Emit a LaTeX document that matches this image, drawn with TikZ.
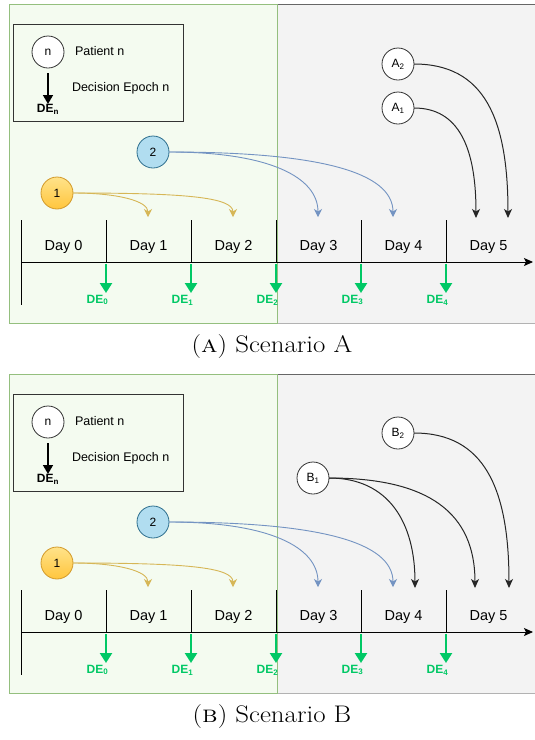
\documentclass[tikz,border=0pt]{standalone}
\usepackage{fontspec}
\newfontfamily\arial{Liberation Sans}
\usetikzlibrary{arrows.meta}

\definecolor{zonegreen}{HTML}{F4FBF0}
\definecolor{zonegreenline}{HTML}{94BF7E}
\definecolor{zonegrey}{HTML}{F3F3F3}
\definecolor{zonegreyline}{HTML}{666666}
\definecolor{degreen}{HTML}{00C865}
\definecolor{bluefill}{HTML}{B1DDF0}
\definecolor{blueedge}{HTML}{2E6F8E}
\definecolor{blueline}{HTML}{7393C2}
\definecolor{yelltop}{HTML}{FFE38A}
\definecolor{yellbot}{HTML}{FFC53D}
\definecolor{yelledge}{HTML}{D29A2A}
\definecolor{yelline}{HTML}{D6B656}

\tikzset{
  every node/.style={inner sep=0pt, outer sep=0pt},
  patient/.style={circle, draw=black!80, line width=0.8pt, fill=white,
    minimum size=32pt, font=\arial\fontsize{12}{14}\selectfont},
  patblue/.style={patient, fill=bluefill, draw=blueedge},
  patyell/.style={patient, top color=yelltop, bottom color=yellbot, draw=yelledge},
  legendbox/.style={draw=black!80, line width=0.9pt, minimum width=170pt, minimum height=97pt},
  legtext/.style={anchor=west, font=\arial\fontsize{12.5}{15}\selectfont},
  daylabel/.style={font=\arial\fontsize{14.5}{17}\selectfont},
  delabel/.style={font=\arial\bfseries\fontsize{12}{14}\selectfont, text=degreen},
  tickline/.style={draw=black, line width=0.9pt},
  timeaxis/.style={draw=black, line width=0.9pt, -{Stealth[length=9pt,width=8pt,inset=2pt]}},
  epocharrow/.style={draw=degreen, line width=2.4pt, -{Triangle[length=10pt,width=12pt]}},
  legarrow/.style={draw=black, line width=1.6pt, -{Triangle[length=9pt,width=10pt]}},
  flowyell/.style={draw=yelline, line width=0.9pt, -{Stealth[length=8pt,width=8pt,inset=2.5pt]}},
  flowblue/.style={draw=blueline, line width=0.9pt, -{Stealth[length=8pt,width=8pt,inset=2.5pt]}},
  flowblack/.style={draw=black!85, line width=1pt, -{Stealth[length=9pt,width=8pt,inset=2.5pt]}},
  captiontext/.style={font=\fontsize{24}{28}\selectfont},
}

% Common frame of one scenario: zones, legend, time axis, epochs, patients 1 and 2
\newcommand{\scenariobase}[1]{%
  \fill[zonegrey] (277,4) rectangle (536,323);
  \draw[zonegreyline, line width=1pt] (277,4) -- (536,4);
  \draw[zonegreyline!50, line width=0.7pt] (277,323) -- (536,323);
  \draw[zonegreenline, fill=zonegreen, line width=0.8pt] (9,4) rectangle (277,323);
  % legend
  \node[legendbox] (#1-legend) at (98,72.5) {};
  \node[patient] (#1-legn) at (48,52) {n};
  \node[legtext] (#1-legpat) at (75,51) {Patient n};
  \node[legtext] (#1-legde) at (72,88) {Decision Epoch n};
  \node[font=\arial\bfseries\fontsize{12}{14}\selectfont] (#1-legden) at (48,109) {DE\textsubscript{n}};
  \coordinate (#1-legtop) at (48,73);
  \coordinate (#1-legtip) at (48,104);
  \draw[legarrow] (#1-legtop) -- (#1-legtip);
  % time axis with day boundaries
  \coordinate (#1-axstart) at (21,262);
  \coordinate (#1-axend) at (533,262);
  \coordinate (#1-lefttop) at (21,220);
  \coordinate (#1-leftbot) at (21,305);
  \draw[tickline] (#1-lefttop) -- (#1-leftbot);
  \draw[timeaxis] (#1-axstart) -- (#1-axend);
  \foreach \k in {1,...,5}{
    \coordinate (#1-tt\k) at (21+85*\k,220);
    \coordinate (#1-tb\k) at (21+85*\k,262);
    \draw[tickline] (#1-tt\k) -- (#1-tb\k);
  }
  \foreach \k in {0,...,5}{
    \node[daylabel] (#1-day\k) at (63.5+85*\k,247) {Day \k};
  }
  \foreach \k [evaluate=\k as \j using int(\k-1)] in {1,...,5}{
    \coordinate (#1-es\k) at (21+85*\k,264);
    \coordinate (#1-ee\k) at (21+85*\k,293);
    \draw[epocharrow] (#1-es\k) -- (#1-ee\k);
    \node[delabel] (#1-de\j) at (12.5+85*\k,300) {DE\textsubscript{\j}};
  }
  % patients 1 and 2
  \node[patblue] (#1-p2) at (153,152) {2};
  \node[patyell] (#1-p1) at (57,193) {1};
  \coordinate (#1-y1) at (148,217);
  \coordinate (#1-y2) at (233,217);
  \coordinate (#1-b3) at (318,217);
  \coordinate (#1-b4) at (393,217);
  \draw[flowyell] (#1-p1.east) .. controls +(45,0) and +(0,-16) .. (#1-y1);
  \draw[flowyell] (#1-p1.east) .. controls +(110,0) and +(0,-20) .. (#1-y2);
  \draw[flowblue] (#1-p2.east) .. controls +(100,0) and +(0,-40) .. (#1-b3);
  \draw[flowblue] (#1-p2.east) .. controls +(150,0) and +(0,-45) .. (#1-b4);
}

\begin{document}
\begin{tikzpicture}[x=1pt,y=-1pt]
\useasboundingbox (0,0) rectangle (535,740);

% ---- Scenario A ----
\begin{scope}
  \scenariobase{A}
  \node[patient] (A-a2) at (398,64) {A\textsubscript{2}};
  \node[patient] (A-a1) at (398,108) {A\textsubscript{1}};
  \coordinate (A-k5a) at (476,218);
  \coordinate (A-k5b) at (508,218);
  \draw[flowblack] (A-a1.east) .. controls +(45,0) and +(0,-70) .. (A-k5a);
  \draw[flowblack] (A-a2.east) .. controls +(70,0) and +(0,-100) .. (A-k5b);
\end{scope}
\node[captiontext] (capA) at (272,347) {\scalebox{1.12}[1]{(\textsc{a}) Scenario A}};

% ---- Scenario B ----
\begin{scope}[shift={(0,370)}]
  \scenariobase{B}
  \node[patient] (B-b2) at (398,63) {B\textsubscript{2}};
  \node[patient] (B-b1) at (313,108) {B\textsubscript{1}};
  \coordinate (B-k4) at (415,218);
  \coordinate (B-k5a) at (475,218);
  \coordinate (B-k5b) at (509,218);
  \draw[flowblack] (B-b1.east) .. controls +(60,0) and +(0,-65) .. (B-k4);
  \draw[flowblack] (B-b1.east) .. controls +(100,0) and +(0,-75) .. (B-k5a);
  \draw[flowblack] (B-b2.east) .. controls +(70,0) and +(0,-100) .. (B-k5b);
\end{scope}
\node[captiontext] (capB) at (272,717) {\scalebox{1.12}[1]{(\textsc{b}) Scenario B}};
\end{tikzpicture}
\end{document}
